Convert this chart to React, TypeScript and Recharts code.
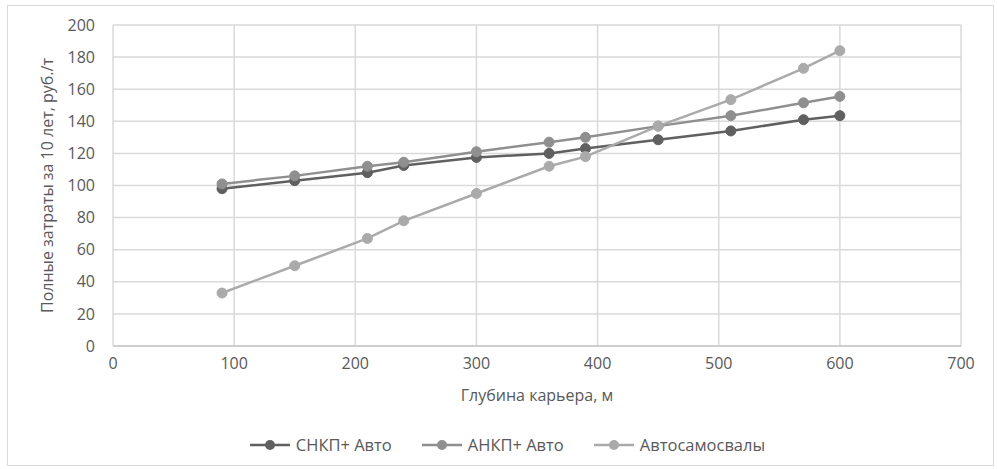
import React from 'react';
import { LineChart, Line, XAxis, YAxis, CartesianGrid, Legend } from 'recharts';

const depths = [90, 150, 210, 240, 300, 360, 390, 450, 510, 570, 600];
const snkp = [98, 103, 108, 112.5, 117.5, 120, 123, 128.5, 134, 141, 143.5];
const ankp = [101, 106, 112, 114.5, 121, 127, 130, 137, 143.5, 151.5, 155.5];
const trucks = [33, 50, 67, 78, 95, 112, 118, 137, 153.5, 173, 184];

const xTicks = [0, 100, 200, 300, 400, 500, 600, 700];
const yTicks = [0, 20, 40, 60, 80, 100, 120, 140, 160, 180, 200];

const series = [
  { key: 'snkp', name: 'СНКП+ Авто', color: '#606060' },
  { key: 'ankp', name: 'АНКП+ Авто', color: '#8f8f8f' },
  { key: 'trucks', name: 'Автосамосвалы', color: '#aaaaaa' },
];

const data = depths.map((d, i) => ({
  depth: d,
  snkp: snkp[i],
  ankp: ankp[i],
  trucks: trucks[i],
}));

const font = '"Open Sans", sans-serif';
const textColor = '#595959';

const LegendContent = () => (
  <div style={{ display: 'flex', justifyContent: 'center', gap: 30, paddingLeft: 18, fontFamily: font, fontSize: 16.5, color: textColor }}>
    {series.map(s => (
      <div key={s.key} style={{ display: 'flex', alignItems: 'center' }}>
        <svg width={40} height={14} style={{ marginRight: 6 }}>
          <line x1={0} y1={7} x2={40} y2={7} stroke={s.color} strokeWidth={2.5} />
          <circle cx={20} cy={7} r={5} fill={s.color} />
        </svg>
        <span>{s.name}</span>
      </div>
    ))}
  </div>
);

const App: React.FC = () => (
  <div style={{ position: 'absolute', left: 0, top: 0, width: 997, height: 469, background: '#fff' }}>
    <div style={{ position: 'absolute', left: 7, top: 5, width: 985, height: 459, border: '1px solid #d9d9d9' }} />
    <LineChart width={997} height={469} data={data} margin={{ top: 25, right: 36, left: 13, bottom: 10 }}>
      <CartesianGrid stroke="#d9d9d9" strokeWidth={1.5} />
      <XAxis
        dataKey="depth"
        type="number"
        domain={[0, 700]}
        ticks={xTicks}
        height={87}
        tickSize={0}
        tickMargin={12}
        axisLine={{ stroke: '#c8c8c8', strokeWidth: 1.5 }}
        tick={{ fill: textColor, fontSize: 16, fontFamily: font }}
        label={{ value: 'Глубина карьера, м', position: 'insideBottom', offset: 32, fill: textColor, fontSize: 16, fontFamily: font }}
      />
      <YAxis
        type="number"
        domain={[0, 200]}
        ticks={yTicks}
        width={100}
        tickSize={0}
        tickMargin={18}
        axisLine={false}
        tick={{ fill: textColor, fontSize: 16, fontFamily: font }}
        label={{ value: 'Полные затраты за 10 лет, руб./т', angle: -90, position: 'insideLeft', offset: 34, fill: textColor, fontSize: 16, fontFamily: font, style: { textAnchor: 'middle' } }}
      />
      <Legend
        verticalAlign="bottom"
        height={26}
        wrapperStyle={{ left: 0, width: 997 }}
        content={<LegendContent />}
      />
      {series.map(s => (
        <Line
          key={s.key}
          dataKey={s.key}
          name={s.name}
          type="linear"
          stroke={s.color}
          strokeWidth={2.5}
          dot={{ r: 5, fill: s.color, stroke: s.color, strokeWidth: 1 }}
          isAnimationActive={false}
        />
      ))}
    </LineChart>
  </div>
);

export default App;
